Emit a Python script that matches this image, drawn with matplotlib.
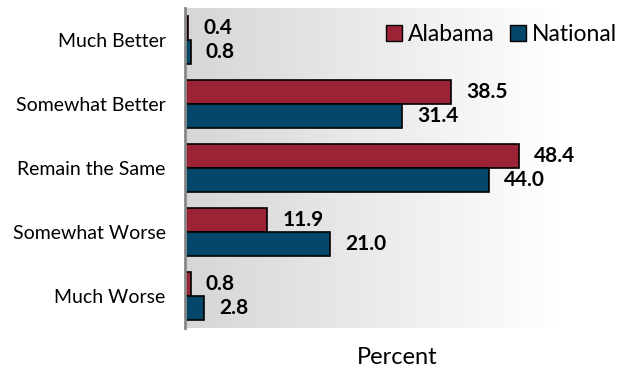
import numpy as np
import matplotlib.pyplot as plt
from matplotlib.patches import Patch
from matplotlib.colors import LinearSegmentedColormap

categories = ['Much Better', 'Somewhat Better', 'Remain the Same', 'Somewhat Worse', 'Much Worse']
alabama = [0.4, 38.5, 48.4, 11.9, 0.8]
national = [0.8, 31.4, 44.0, 21.0, 2.8]

c_al = '#9b2335'
c_na = '#05466b'

plt.rcParams['font.family'] = ['Lato', 'DejaVu Sans']

fig = plt.figure(figsize=(6.27, 3.68), dpi=100)
ax = fig.add_axes([185 / 627, 40 / 368, 425 / 627, 320 / 368])

xmax = 61.6
ax.set_xlim(0, xmax)
ax.set_ylim(-0.5, 4.5)

# gradient background, gray on the left to white on the right
grad = np.linspace(0, 1, 256).reshape(1, -1)
cm = LinearSegmentedColormap.from_list('bg', [(0, '#d6d6d6'), (0.88, '#ffffff'), (1, '#ffffff')])
ax.imshow(grad, aspect='auto', cmap=cm, extent=[0, xmax, -0.5, 4.5], zorder=0)

y = np.arange(len(categories))[::-1]
h = 0.375
ax.barh(y + h / 2, alabama, height=h, color=c_al, edgecolor='black', linewidth=1.2, zorder=2)
ax.barh(y - h / 2, national, height=h, color=c_na, edgecolor='black', linewidth=1.2, zorder=2)

for yi, a, n in zip(y, alabama, national):
    ax.annotate(f'{a:.1f}', (a, yi + h / 2), xytext=(11, 0), textcoords='offset points',
                va='center', ha='left', fontsize=15, fontweight='bold')
    ax.annotate(f'{n:.1f}', (n, yi - h / 2), xytext=(11, 0), textcoords='offset points',
                va='center', ha='left', fontsize=15, fontweight='bold')

ax.set_yticks(y)
ax.set_yticklabels(categories, fontsize=14)
ax.tick_params(axis='y', length=0, pad=14)
ax.set_xticks([])
for s in ['top', 'right', 'bottom']:
    ax.spines[s].set_visible(False)
ax.spines['left'].set_color('#888888')
ax.spines['left'].set_linewidth(2)

ax.set_xlabel('Percent', fontsize=17, labelpad=14)

handles = [Patch(facecolor=c_al, edgecolor='black', label='Alabama'),
           Patch(facecolor=c_na, edgecolor='black', label='National')]
ax.legend(handles=handles, loc='upper right', ncol=2, frameon=False, fontsize=16.5,
          handlelength=0.7, handleheight=0.7, handletextpad=0.25, columnspacing=0.7,
          borderpad=0, borderaxespad=0, bbox_to_anchor=(1.017, 0.95))

fig.savefig('out.png', dpi=100)
